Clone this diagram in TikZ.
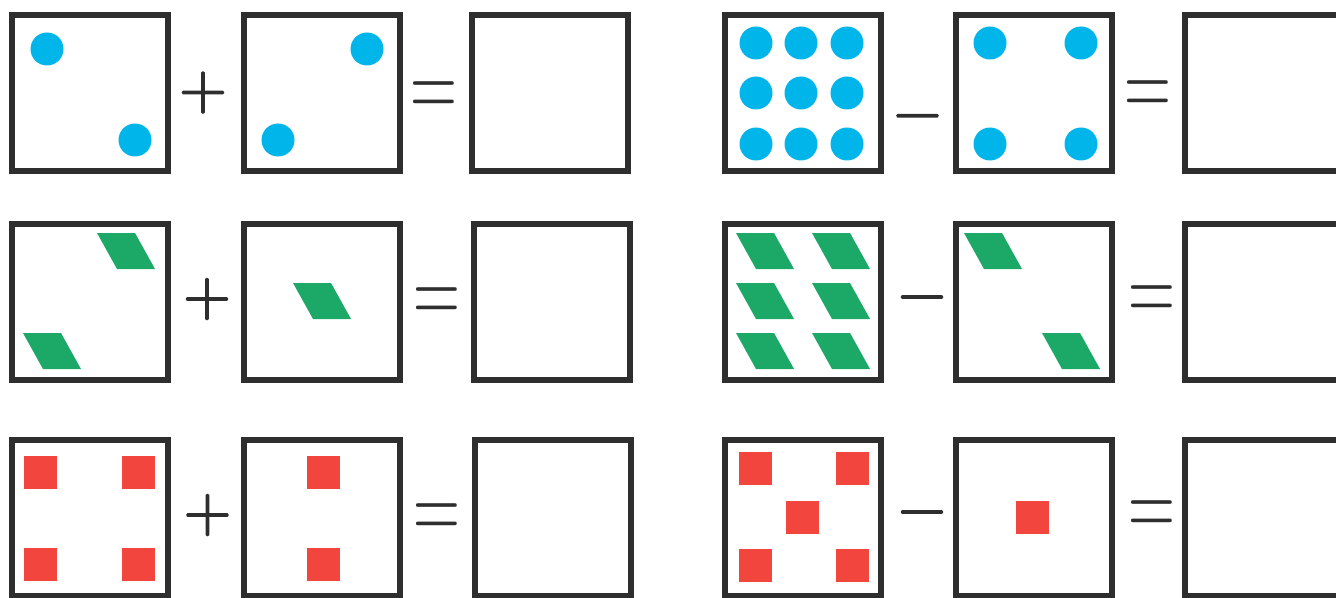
\documentclass[tikz,border=0pt]{standalone}
\usepackage{fontspec}
\usepackage{tikz}
\usetikzlibrary{positioning}
\newfontfamily\opfont[FakeBold=2.5]{Latin Modern Roman}
\definecolor{frame}{HTML}{2E2E2E}
\definecolor{dotblue}{HTML}{00B5EA}
\definecolor{leaf}{HTML}{1CA866}
\definecolor{brick}{HTML}{F2453D}
\newcommand{\leafat}[2]{\fill[chip,leaf] (#1,#2) -- ++(38,0) -- ++(20,36) -- ++(-38,0) -- cycle;}
\newcommand{\brickat}[2]{\fill[chip,brick] (#1,#2) rectangle ++(33,33);}
\newcommand{\dotat}[2]{\fill[chip,dotblue] (#1,#2) circle[radius=16.5];}
\newcommand{\eqsign}{\scalebox{1}[1.59]{\rmfamily =}}

\begin{document}
\begin{tikzpicture}[
  x=0.02cm,y=-0.02cm,
  tile/.style={draw=frame,fill=white,line width=0.12cm,minimum size=3.12cm,inner sep=0pt},
  op/.style={text=frame,inner sep=0pt,anchor=base,font=\opfont\fontsize{37}{37}\selectfont},
  chip/.style={draw=none}
]
\useasboundingbox (0,0) rectangle (1336,598);
\clip (0,0) rectangle (1336,598);
% circles
\node[tile] (dotsA) at (90,93) {};
\node[tile] (dotsB) at (322,93) {};
\node[tile] (dotsC) at (550,93) {};
\node[tile] (dotsD) at (803,93) {};
\node[tile] (dotsE) at (1034,93) {};
\node[tile] (dotsF) at (1263,93) {};
\node[op] (dotsPlus) at (203,108.75) {+};
\node[op] (dotsEqL) at (433.5,118.8) {\eqsign};
\node[op] (dotsMinus) at (917.5,132) {−};
\node[op] (dotsEqR) at (1148,117.8) {\eqsign};
\dotat{47}{49} \dotat{135}{140}
\dotat{367}{49} \dotat{278}{140}
\foreach \px in {756,801,847}
  \foreach \py in {43,93,144} {\dotat{\px}{\py}}
\foreach \px in {990,1081}
  \foreach \py in {43,144} {\dotat{\px}{\py}}
% parallelograms
\node[tile] (leafA) at (90,302) {};
\node[tile] (leafB) at (322,302) {};
\node[tile] (leafC) at (552,302) {};
\node[tile] (leafD) at (803,302) {};
\node[tile] (leafE) at (1034,302) {};
\node[tile] (leafF) at (1263,302) {};
\node[op] (leafPlus) at (207,315.25) {+};
\node[op] (leafEqL) at (437,324.3) {\eqsign};
\node[op] (leafMinus) at (922,313.25) {−};
\node[op] (leafEqR) at (1152,322.8) {\eqsign};
\leafat{97}{233} \leafat{23}{333}
\leafat{293}{283}
\foreach \px in {736,812}
  \foreach \py in {233,283,333} {\leafat{\px}{\py}}
\leafat{964}{233} \leafat{1042}{333}
% squares
\node[tile] (brickA) at (90,518) {};
\node[tile] (brickB) at (322,518) {};
\node[tile] (brickC) at (553,518) {};
\node[tile] (brickD) at (803,518) {};
\node[tile] (brickE) at (1034,518) {};
\node[tile] (brickF) at (1263,518) {};
\node[op] (brickPlus) at (207.5,531.25) {+};
\node[op] (brickEqL) at (437,540.3) {\eqsign};
\node[op] (brickMinus) at (922,528.25) {−};
\node[op] (brickEqR) at (1152,537.8) {\eqsign};
\foreach \px in {24,122}
  \foreach \py in {456,548} {\brickat{\px}{\py}}
\brickat{307}{456} \brickat{307}{548}
\foreach \px in {739,836}
  \foreach \py in {452,549} {\brickat{\px}{\py}}
\brickat{786}{501}
\brickat{1016}{501}
\end{tikzpicture}
\end{document}
